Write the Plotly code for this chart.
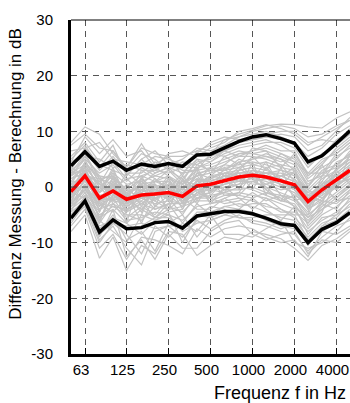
import plotly.graph_objects as go

# Third-octave band centre frequencies (Hz)
FREQS = [50, 63, 80, 100, 125, 160, 200, 250, 315, 400, 500, 630, 800,
         1000, 1250, 1600, 2000, 2500, 3150, 4000, 5000]

# Mean difference (red)
MEAN = [-0.84, 2.0, -2.0, -0.7, -2.2, -1.45, -1.25, -1.0, -1.7, 0.2, 0.5,
        1.2, 1.8, 2.1, 1.8, 1.1, 0.4, -2.6, -0.5, 1.3, 3.0]
# Mean + standard deviation (upper black)
UPPER = [3.8, 6.35, 3.7, 4.65, 3.0, 4.1, 3.7, 4.2, 3.7, 5.75, 5.9, 7.1, 8.2,
         9.0, 9.4, 8.7, 7.85, 4.5, 5.6, 7.85, 10.1]
# Mean - standard deviation (lower black)
LOWER = [-5.6, -2.5, -8.1, -5.9, -7.5, -7.3, -6.4, -6.2, -7.4, -5.2, -4.8,
         -4.4, -4.4, -4.8, -5.6, -6.6, -6.9, -10.0, -7.6, -6.4, -4.6]

G01 = [8.0, 10.8, 9.5, 6.0, 3.5, 7.8, 4.0, 5.5, 2.0, 6.5, 7.5, 8.5, 9.5, 10.2, 11.0, 11.3, 11.2, 10.8, 10.6, 12.4, 13.5]
G02 = [-8.0, -5.0, -12.8, -9.0, -15.0, -10.5, -12.0, -8.0, -8.5, -12.3, -10.5, -9.0, -9.5, -8.0, -8.5, -9.3, -11.0, -13.2, -10.5, -9.3, -7.5]
G03 = [3.0, 5.0, 2.5, 4.0, 1.0, 3.5, 2.0, 3.0, 1.5, 4.5, 5.0, 6.5, 7.5, 8.0, 8.5, 7.5, 6.0, 2.0, 4.5, 6.5, 8.5]
G04 = [-4.0, -1.0, -6.5, -3.0, -6.0, -5.5, -4.5, -5.0, -6.0, -3.5, -3.0, -2.5, -2.0, -2.5, -3.5, -4.0, -5.5, -8.0, -6.0, -4.5, -2.5]
G05 = [1.0, 4.0, 0.0, 2.0, -1.0, 0.5, 1.0, 0.0, -0.5, 2.0, 2.5, 3.5, 4.0, 4.5, 4.0, 3.0, 2.5, -1.0, 1.5, 3.0, 5.0]
G06 = [-2.0, 0.5, -4.0, -1.5, -3.5, -2.0, -3.0, -2.5, -3.0, -1.0, -0.5, 0.0, 0.5, 1.0, 0.0, -1.0, -2.0, -5.0, -3.0, -1.0, 1.0]
G07 = [5.5, 8.0, 4.5, 7.5, 2.0, 5.0, 6.5, 4.0, 5.0, 7.0, 6.5, 7.5, 9.0, 9.5, 10.0, 9.0, 8.0, 5.5, 7.0, 9.5, 11.0]
G08 = [-6.5, -3.0, -9.5, -7.0, -11.0, -14.0, -8.0, -7.0, -9.0, -6.0, -7.5, -6.0, -5.0, -6.5, -7.0, -8.0, -8.5, -11.5, -9.0, -7.0, -6.0]
G09 = [0.0, 3.0, -1.0, 1.5, -2.0, -1.0, 0.0, 1.0, -1.0, 1.0, 1.5, 2.5, 3.0, 3.5, 3.0, 2.0, 1.0, -2.0, 0.0, 2.0, 4.0]
G10 = [-3.0, -0.5, -3.0, -4.5, -2.0, -4.0, -2.0, -3.5, -4.5, -2.0, -1.5, -1.0, 0.0, -0.5, -1.5, -2.5, -3.0, -6.5, -4.0, -2.0, 0.0]
G11 = [2.5, 6.0, 1.5, 0.5, 0.0, 2.0, 3.0, 2.5, 3.5, 3.5, 4.0, 5.0, 6.0, 6.5, 7.0, 6.0, 5.0, 1.0, 2.0, 5.5, 7.0]
G12 = [-1.5, 1.0, -2.5, 0.5, -4.0, -3.0, -1.0, -1.5, -2.0, 0.0, 0.5, 1.0, 2.0, 2.5, 2.0, 1.5, 0.0, -3.5, -1.5, 0.5, 2.0]
G13 = [4.5, 9.0, 6.0, 8.5, 5.5, 6.5, 3.5, 6.0, 6.5, 5.5, 7.0, 8.0, 10.0, 10.5, 11.2, 10.5, 9.5, 7.5, 9.0, 10.5, 12.0]
G14 = [-5.0, -2.0, -8.0, -5.0, -9.5, -8.0, -11.5, -6.5, -5.0, -9.0, -6.0, -5.0, -4.0, -4.5, -6.0, -7.0, -7.5, -10.0, -7.5, -6.0, -4.0]
G15 = [1.5, 2.5, -0.5, 3.0, -1.5, 1.5, -0.5, 0.5, 0.0, 1.5, 1.0, 2.0, 2.5, 3.0, 2.5, 2.5, 1.5, -1.5, 0.5, 1.5, 3.5]
G16 = [-2.5, 1.5, -1.5, -2.5, -3.0, -0.5, -2.0, -1.0, -2.5, -0.5, 0.0, 0.5, 1.0, 1.5, 1.0, 0.0, -1.0, -4.0, -2.0, 0.0, 2.5]
G17 = [6.5, 7.0, 8.0, 5.0, 4.5, 4.0, 5.5, 5.0, 4.0, 6.0, 8.0, 9.0, 8.5, 9.0, 9.5, 10.0, 10.0, 8.0, 8.5, 8.0, 10.5]
G18 = [-7.0, -4.0, -11.0, -8.5, -13.0, -9.0, -9.5, -10.5, -12.0, -7.5, -9.0, -7.5, -7.0, -7.5, -9.0, -10.0, -9.5, -12.5, -8.0, -8.5, -7.0]
G19 = [0.5, 4.5, 1.0, 2.5, 0.5, 1.0, 2.0, 1.5, 0.5, 3.0, 3.5, 4.5, 5.5, 5.5, 5.0, 4.0, 3.5, 0.0, 3.0, 4.0, 6.0]
G20 = [-3.5, -1.5, -5.0, -3.5, -5.0, -6.0, -3.5, -4.0, -3.5, -2.5, -2.5, -1.5, -1.0, -1.5, -2.0, -3.0, -4.0, -7.5, -5.0, -3.5, -1.5]
G21 = [2.0, 3.5, 0.5, -0.5, 1.5, -1.0, 1.5, -0.5, 1.0, 0.5, 2.0, 1.5, 3.5, 4.0, 3.5, 1.0, 0.5, -3.0, -1.0, 2.5, 4.5]
G22 = [-0.5, 2.0, -3.5, 1.0, -2.5, -2.5, -0.5, -2.0, -1.0, -1.5, -1.0, 0.5, 1.5, 0.5, 0.5, -0.5, 0.0, -2.5, 1.0, -0.5, 1.5]
G23 = [3.5, 6.5, 3.0, 5.5, 2.5, 2.5, 4.5, 3.5, 2.5, 5.0, 4.5, 6.0, 7.0, 7.5, 8.0, 8.0, 7.0, 3.5, 6.0, 7.5, 9.5]
G24 = [-4.5, -2.5, -7.0, -6.0, -7.5, -7.0, -5.5, -5.5, -7.5, -4.5, -4.5, -3.5, -3.0, -3.5, -4.5, -5.5, -6.0, -9.0, -6.5, -5.5, -3.0]
G25 = [1.0, 1.0, -1.5, -1.0, -0.5, -2.0, -1.5, 1.5, -2.0, 2.5, 3.0, 3.0, 4.5, 5.0, 6.0, 5.0, 4.0, 0.5, 2.5, 3.5, 6.5]
G26 = [-1.0, 3.5, -2.0, 0.0, -1.0, 0.0, -2.5, 0.0, -0.5, -0.5, -2.0, -0.5, -0.5, 0.0, -1.0, -2.0, -3.5, -6.0, -3.5, -1.5, 0.5]
G27 = [7.5, 9.5, 7.0, 6.5, 3.0, 6.0, 5.0, 3.0, 4.5, 4.0, 5.5, 7.0, 8.0, 8.5, 9.0, 9.5, 9.0, 6.5, 7.5, 10.0, 12.5]
G28 = [-5.5, -3.5, -10.0, -6.5, -8.5, -12.0, -7.0, -9.0, -6.5, -8.0, -5.0, -8.5, -8.5, -9.0, -7.5, -6.0, -10.0, -11.0, -10.0, -8.0, -5.5]
G29 = [0.0, 0.0, -2.5, 1.5, -3.0, -0.5, 0.5, -1.5, -3.5, 1.0, 0.0, 2.0, 1.5, 2.0, 2.5, 3.0, 2.0, -0.5, -2.0, 1.0, 3.0]
G30 = [-2.0, 2.5, 0.5, -1.0, -4.5, -1.5, -4.0, -3.0, 0.0, -3.0, 1.0, -1.5, -1.5, 1.0, 1.5, 0.5, -1.5, -3.0, 0.0, 0.0, 2.0]
G31 = [4.0, 5.5, 5.0, 3.5, 4.0, 3.0, 3.0, 4.5, 3.0, 3.0, 6.0, 5.5, 6.5, 6.0, 6.5, 5.5, 4.5, 2.5, 5.0, 6.0, 8.0]
G32 = [-6.0, -1.5, -6.0, -8.0, -10.0, -5.0, -6.0, -4.5, -10.0, -5.5, -3.5, -4.0, -5.5, -5.5, -5.0, -5.0, -5.0, -9.5, -7.0, -5.0, -2.0]
G33 = [2.0, 5.0, -1.0, 2.5, -2.0, 1.0, -1.0, 2.0, -1.5, 2.5, 1.5, 3.0, 5.0, 4.0, 4.5, 3.5, 3.0, -2.0, 1.0, 4.5, 5.5]
G34 = [-3.0, 0.0, -5.5, -2.0, -5.5, -3.5, -5.0, -2.0, -5.0, -1.0, -2.0, -3.0, -2.5, -1.0, -2.5, -1.5, -2.5, -5.5, -2.5, -3.0, -1.0]
G35 = [5.0, 7.5, 3.5, 6.5, 3.5, 7.0, 6.0, 5.5, 5.5, 6.5, 6.0, 8.5, 9.0, 10.0, 10.5, 11.0, 10.5, 9.0, 9.5, 11.0, 12.0]
G36 = [-4.0, -2.0, -9.0, -4.0, -12.5, -9.5, -13.0, -8.5, -11.0, -11.0, -8.0, -6.5, -6.0, -8.5, -9.5, -8.5, -8.0, -12.0, -9.5, -10.0, -8.0]
G37 = [2.5, 3.0, -2.5, 0.0, -3.5, 0.0, 0.5, -2.0, 2.0, -1.0, 0.5, -0.5, 0.5, 3.0, 2.0, -1.5, -2.0, -4.5, 2.0, 2.0, 1.0]
G38 = [-1.5, 4.5, 1.5, -3.0, -1.5, -4.5, 1.0, 1.0, -3.0, 3.5, -1.0, 2.5, 2.5, -0.5, 3.5, 4.0, 1.0, -1.0, -1.5, 3.5, 5.0]
G39 = [0.5, -1.0, -4.5, 0.5, -6.5, 2.0, -2.5, -4.0, 1.5, -2.5, 2.0, 4.0, 3.5, 1.5, -0.5, 2.0, 3.5, -3.5, -0.5, -2.0, 0.5]
G40 = [-3.5, 1.5, -6.0, -1.5, -1.0, -6.5, -1.5, 0.5, -4.0, 1.5, -3.0, -2.0, -1.0, 2.5, 0.0, -2.5, -1.5, -7.0, -4.5, 1.5, 3.5]
G41 = [3.5, 2.0, 1.5, 2.0, -0.5, 1.5, 3.5, 2.0, -0.5, 4.0, 3.0, 4.0, 6.0, 6.0, 5.5, 4.5, 5.5, 1.5, 3.5, 5.0, 7.5]
G42 = [-2.5, -0.5, -3.0, -3.5, -4.0, -2.5, -5.5, -4.0, -2.0, -4.0, -4.0, -2.0, -3.5, -3.0, -3.0, -4.5, -4.5, -6.5, -3.0, -4.0, -0.5]
G43 = [1.5, 3.5, -3.0, 1.0, -4.5, 1.5, -3.5, 1.5, -3.0, 1.0, 3.5, 2.0, 4.5, 1.5, 4.5, 0.0, 3.0, -4.0, 0.5, 3.0, 5.5]
G44 = [-3.0, 4.0, 0.0, -2.5, 0.5, -3.5, 0.0, -2.5, 0.5, -2.0, -1.0, 3.5, -0.5, 4.5, -1.5, 3.5, -2.5, -1.5, -3.0, 3.0, 0.5]
G45 = [3.0, 1.0, -1.0, 3.5, -2.5, 3.0, 1.5, -0.5, 2.5, 3.0, -1.5, 1.0, 3.0, 5.5, 3.0, 6.0, 4.5, 0.0, 4.0, -0.5, 6.0]
G46 = [-4.5, 0.5, -5.5, -4.0, -6.5, -4.0, -5.5, -3.0, -6.5, -3.0, -5.0, -3.5, -4.0, -2.0, -4.0, -6.0, -3.5, -8.5, -5.5, -5.0, -3.5]
G47 = [2.0, 5.5, 2.0, -1.5, 2.5, 0.5, 2.5, 3.5, 1.0, 5.0, 2.5, 5.5, 4.0, 7.0, 6.5, 3.5, 6.0, 2.5, 2.5, 6.0, 8.0]
G48 = [-1.0, -2.0, -6.5, 0.5, -5.0, -5.0, 0.5, -4.5, -4.0, 0.5, -3.0, 0.0, -2.0, -4.0, -2.0, -4.0, -5.0, -5.0, 0.5, -2.5, -2.0]
G49 = [0.5, 2.0, 1.0, -2.0, -1.0, -3.0, -1.0, 0.0, -2.5, -1.5, 1.5, 1.0, 0.0, 2.0, 0.5, 1.5, -0.5, -4.0, -2.5, 1.0, 2.5]
G50 = [-2.0, 3.0, -4.5, 2.0, -3.0, 0.5, -3.5, -1.5, 1.0, 2.0, -0.5, -1.0, 3.0, 3.5, -0.5, -2.5, 1.5, -2.0, -1.0, 0.5, 4.0]
G51 = [4.5, 6.0, 0.5, 4.5, 1.5, 2.0, 1.0, 3.0, 0.5, 3.5, 4.5, 6.5, 5.5, 6.5, 7.5, 6.5, 6.5, 2.0, 4.0, 7.0, 9.0]
G52 = [-5.0, -3.0, -7.5, -5.5, -6.5, -8.5, -6.0, -5.0, -8.0, -6.5, -6.0, -5.0, -5.5, -6.0, -6.5, -7.5, -6.5, -9.5, -8.0, -6.5, -5.0]
G53 = [1.0, 0.5, -3.5, -1.5, -2.5, -1.0, -2.0, -1.0, -2.0, 0.0, 0.0, 1.5, 2.5, 2.5, 1.5, 0.5, -0.5, -3.0, -1.0, 1.5, 3.5]
G54 = [-1.0, 2.5, -1.0, 0.5, -1.5, -2.0, 0.0, -0.5, -1.5, 1.0, 1.0, 2.0, 1.0, 3.0, 2.5, 2.0, 1.0, -2.5, 0.5, 2.0, 2.5]
G55 = [2.5, 4.0, 2.0, 1.5, -0.5, -0.5, 1.0, 2.0, 0.5, 2.0, 3.5, 3.0, 3.5, 5.0, 5.5, 5.0, 3.0, -0.5, 2.0, 4.0, 6.0]
G56 = [-3.5, -0.5, -4.0, -3.0, -4.5, -3.0, -4.0, -3.0, -3.0, -2.0, -2.0, -1.0, -1.5, -2.0, -1.0, -1.5, -3.5, -5.5, -4.0, -2.5, -0.5]
G57 = [0.0, 1.5, -2.0, -2.5, -1.5, 0.5, -1.5, -2.0, -1.0, -0.5, -0.5, 0.5, 1.0, 1.0, 1.5, 2.0, 2.5, -1.5, -2.5, 0.5, 1.5]
G58 = [-0.5, 3.0, -2.5, 0.0, -3.0, -1.5, -2.5, 0.5, -2.5, 0.5, 2.0, 2.5, 2.0, 1.5, 2.5, 1.0, -0.5, -3.5, 0.0, 2.5, 4.5]
G59 = [3.0, 7.0, 4.0, 3.0, 2.0, 5.0, 2.5, 3.5, 4.0, 4.0, 5.5, 6.5, 8.0, 8.5, 9.0, 8.5, 8.0, 4.0, 5.5, 8.5, 10.0]
G60 = [-6.0, -2.5, -8.5, -6.5, -7.0, -6.5, -7.5, -7.0, -7.0, -5.0, -5.5, -4.5, -4.5, -5.0, -5.5, -7.0, -7.0, -10.5, -7.0, -6.0, -4.5]

GREY = [G01, G02, G03, G04, G05, G06, G07, G08, G09, G10, G11, G12,
        G13, G14, G15, G16, G17, G18, G19, G20, G21, G22, G23, G24,
        G25, G26, G27, G28, G29, G30, G31, G32, G33, G34, G35, G36,
        G37, G38, G39, G40, G41, G42, G43, G44, G45, G46, G47, G48,
        G49, G50, G51, G52, G53, G54, G55, G56, G57, G58, G59, G60]

X_TICKS = [63, 125, 250, 500, 1000, 2000, 4000]
X_TICKTEXT = ["63", "125", "250", "500", "1000", "2000", "4000"]
Y_TICKS = [-30, -20, -10, 0, 10, 20, 30]
Y_TICKTEXT = ["-30", "-20", "-10", "0", "10", "20", "30"]

FONT = "Liberation Sans, Arial, sans-serif"
GRID_DASH = "6px,5px"

fig = go.Figure()
for g in GREY:
    fig.add_trace(go.Scatter(x=FREQS, y=g, mode="lines",
                             line=dict(color="#c3c3c3", width=1.2),
                             hoverinfo="skip", showlegend=False))
fig.add_trace(go.Scatter(x=FREQS, y=UPPER, mode="lines",
                         line=dict(color="black", width=3.5), showlegend=False))
fig.add_trace(go.Scatter(x=FREQS, y=LOWER, mode="lines",
                         line=dict(color="black", width=3.5), showlegend=False))
fig.add_trace(go.Scatter(x=FREQS, y=MEAN, mode="lines",
                         line=dict(color="#ff0000", width=3.5), showlegend=False))

fig.update_layout(
    width=350, height=403,
    margin=dict(l=71, r=0, t=20, b=49, autoexpand=False),
    paper_bgcolor="white", plot_bgcolor="white",
    font=dict(family=FONT, size=15, color="black"),
    xaxis=dict(
        type="log", range=[1.69897, 3.69897], automargin=False,
        tickvals=X_TICKS, ticktext=X_TICKTEXT,
        ticks="inside", ticklen=6, tickwidth=1, tickcolor="black",
        ticklabelshift=-4,
        showline=True, linewidth=3, linecolor="black",
        showgrid=True, gridcolor="#555555", gridwidth=1, griddash=GRID_DASH,
        zeroline=False, tickfont=dict(size=15),
    ),
    yaxis=dict(
        range=[-30, 30], tickvals=Y_TICKS, ticktext=Y_TICKTEXT, automargin=False,
        ticks="", ticklabelstandoff=12,
        showline=True, linewidth=3, linecolor="black",
        showgrid=True, gridcolor="#555555", gridwidth=1, griddash=GRID_DASH,
        zeroline=False, tickfont=dict(size=15),
    ),
    shapes=[
        dict(type="line", xref="paper", yref="paper", x0=0, x1=1, y0=1, y1=1,
             line=dict(color="black", width=1)),
        dict(type="line", xref="paper", yref="y", x0=0, x1=1, y0=0, y1=0,
             layer="above", line=dict(color="#444444", width=1, dash=GRID_DASH)),
    ],
    annotations=[
        dict(text="Frequenz f in Hz", xref="paper", yref="paper",
             x=0.993, y=-0.117, xanchor="right", yanchor="middle",
             showarrow=False, font=dict(size=18)),
        dict(text="Differenz Messung - Berechnung in dB", xref="paper", yref="paper",
             x=-0.2, y=0.54, xanchor="center", yanchor="middle", textangle=-90,
             showarrow=False, font=dict(size=17)),
    ],
)

fig.write_html("out.html", config={"displayModeBar": False},
               post_script="document.body.style.margin='0';document.body.style.overflow='hidden';")
